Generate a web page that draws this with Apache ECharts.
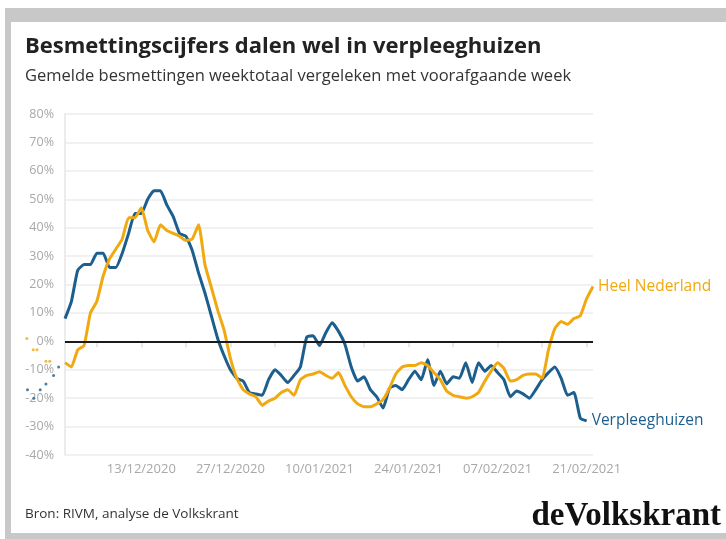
<!DOCTYPE html>
<html><head><meta charset="utf-8">
<script src="https://cdn.jsdelivr.net/npm/echarts@6/dist/echarts.min.js"></script>
<style>html,body{margin:0;padding:0;background:#fff}#c{width:726px;height:539px}</style>
</head><body><div id="c"></div>
<script>
// Series (daily values, day 0 = 01/12/2020), % change week total vs previous week
const seriesNames = ['Heel Nederland', 'Verpleeghuizen'];
const heelNederland = [-7.5,-9,-3,-1.5,10,14,23,29,32.5,36, 43.5,43.5,47,39,35,41,39,38,37,35.5,
  36,41,27,19,11,4,-6,-13,-17,-18.5, -19.5,-22.5,-21,-20,-18,-17,-19,-13.5,-12,-11.5,
  -10.7,-12,-13,-11,-15.5,-19.5,-22,-23,-23,-22, -20.5,-16.5,-11.5,-9,-8.5,-8.5,-7.5,-8.5,-11,-13.5,
  -17.5,-19,-19.5,-20,-19.5,-18,-14,-10.5,-7.5,-9.5, -14,-13.5,-12,-11.5,-11.5,-13,-3,4.5,7,6,
  8,9,15,19.3];
const verpleeghuizen = [8,14,25,27,27,31,31,26,26,31, 38,45,45,50,53,53,48,44,38,37,
  32,24,17,9,1,-5,-10,-13,-14,-18, -18.5,-19,-13.5,-10,-12,-14.5,-12,-9,1.5,2,
  -1.5,3,6.5,3.5,-1,-9,-14,-12.5,-17,-19.5, -23.5,-16.5,-15.5,-17,-13.5,-10.5,-13.5,-6.5,-15.5,-10.5,
  -15,-12.5,-13,-7.5,-14.5,-7.5,-10.5,-8.5,-11,-13.5, -19.5,-17.5,-18.5,-20,-17,-13.5,-11,-9,-13,-19,
  -18,-27,-28];
// stray dots left of the axis (days before 01/12/2020)
const strayNederland = [[-6,1],[-5,-3],[-4.4,-3],[-3,-7],[-2.4,-7]];
const strayVerpleeg = [[-1,-9],[-1.8,-12],[-3,-15],[-3.9,-17],[-5.9,-17],[-4.9,-20]];
// x axis
const tickDays = [5,12,19,26,33,40,47,54,61,68,75,82];
const labelDays = [12,26,40,54,68,82];
const tickLabels = ['13/12/2020','27/12/2020','10/01/2021','24/01/2021','07/02/2021','21/02/2021'];

const BLUE = '#1c5f8e', ORANGE = '#f0a910';
const FONT = 'Open Sans';

const chart = echarts.init(document.getElementById('c'));
chart.setOption({
  backgroundColor: '#fff',
  animation: false,
  textStyle: { fontFamily: FONT },
  title: [
    { text: 'Besmettingscijfers dalen wel in verpleeghuizen', left: 25, top: 36, padding: 0,
      textStyle: { fontFamily: FONT, fontSize: 22, fontWeight: 'bold', color: '#222' } },
    { text: 'Gemelde besmettingen weektotaal vergeleken met voorafgaande week', left: 25, top: 68, padding: 0,
      textStyle: { fontFamily: FONT, fontSize: 16.5, fontWeight: 'normal', color: '#333' } },
    { text: 'Bron: RIVM, analyse de Volkskrant', left: 25, top: 507, padding: 0,
      textStyle: { fontFamily: FONT, fontSize: 13.5, fontWeight: 'normal', color: '#333' } },
    { text: 'deVolkskrant', right: 5, top: 500, padding: 0,
      textStyle: { fontFamily: 'Liberation Serif', fontSize: 33, fontWeight: 'bold', color: '#111' } }
  ],
  graphic: [
    { type: 'rect', left: 5, top: 8, shape: { width: 721, height: 14 }, style: { fill: '#c8c8c8' }, silent: true },
    { type: 'rect', left: 5, top: 8, shape: { width: 6, height: 531 }, style: { fill: '#c8c8c8' }, silent: true },
    { type: 'rect', left: 5, top: 533, shape: { width: 721, height: 6 }, style: { fill: '#c8c8c8' }, silent: true }
  ],
  grid: { left: 65, right: 133, top: 114, bottom: 84 },
  xAxis: {
    type: 'value', min: 0, max: 83,
    axisLine: { show: true, lineStyle: { color: '#e6e6e6', width: 1.5 } },
    axisTick: { show: true, customValues: tickDays, length: 6, lineStyle: { color: '#e0e0e0', width: 1.5 } },
    axisLabel: { customValues: labelDays, color: '#a8a8a8', fontSize: 13, margin: 8,
      formatter: v => tickLabels[labelDays.indexOf(v)] || '' },
    splitLine: { show: false }
  },
  yAxis: {
    type: 'value', min: -40, max: 80, interval: 10,
    axisLine: { show: true, lineStyle: { color: '#e6e6e6', width: 1.5 } },
    axisTick: { show: false },
    axisLabel: { color: '#a8a8a8', fontSize: 12.5, margin: 11, formatter: '{value}%' },
    splitLine: { lineStyle: { color: '#ececec', width: 1.5 } }
  },
  series: [
    { type: 'line', data: [], z: 1, silent: true,
      markLine: { silent: true, symbol: 'none', label: { show: false },
        lineStyle: { color: '#1a1a1a', width: 2, type: 'solid' }, data: [{ yAxis: 0 }] } },
    { name: seriesNames[0], type: 'line', z: 3, showSymbol: false, smooth: 0.15,
      data: heelNederland.map((v, i) => [i, v]),
      lineStyle: { color: ORANGE, width: 3, join: 'round' }, itemStyle: { color: ORANGE },
      endLabel: { show: true, formatter: seriesNames[0], color: ORANGE, fontSize: 15.5, distance: 5, fontFamily: FONT } },
    { name: seriesNames[1], type: 'line', z: 2, showSymbol: false, smooth: 0.15,
      data: verpleeghuizen.map((v, i) => [i, v]),
      lineStyle: { color: BLUE, width: 3, join: 'round' }, itemStyle: { color: BLUE },
      endLabel: { show: true, formatter: seriesNames[1], color: BLUE, fontSize: 15.5, distance: 5, fontFamily: FONT } },
    { type: 'scatter', clip: false, symbolSize: 3, data: strayNederland, itemStyle: { color: ORANGE }, silent: true },
    { type: 'scatter', clip: false, symbolSize: 3, data: strayVerpleeg, itemStyle: { color: BLUE }, silent: true }
  ]
});
</script>
</body></html>
